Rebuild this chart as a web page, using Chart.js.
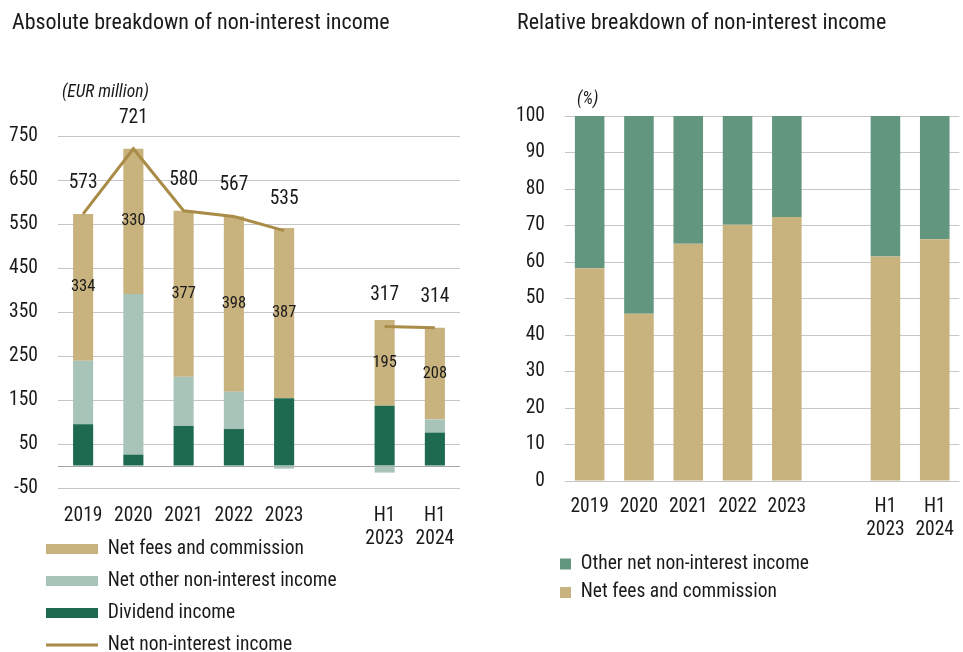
<!DOCTYPE html>
<html>
<head>
<meta charset="utf-8">
<script src="https://cdn.jsdelivr.net/npm/chart.js@4.4.1/dist/chart.umd.min.js"></script>
<style>
  html, body { margin: 0; padding: 0; background: #fff; overflow: hidden; }
  body { width: 963px; height: 652px; position: relative; }
  canvas { position: absolute; top: 0; }
  #absChart { left: 0; }
  #relChart { left: 500px; }
</style>
</head>
<body>
<canvas id="absChart" width="480" height="652"></canvas>
<canvas id="relChart" width="468" height="652"></canvas>
<script>
const periods = ['2019', '2020', '2021', '2022', '2023', '', ['H1', '2023'], ['H1', '2024']];

// EUR million
const dividendIncome = [95, 26, 91, 84, 154, null, 137, 76];
const otherIncome = [144, 365, 112, 85, -6, null, -15, 30];
const feesCommission = [334, 330, 377, 398, 387, null, 195, 208];
const totalIncome = [573, 721, 580, 567, 535, null, 317, 314];

// share of net non-interest income, %
const feesShare = [58.3, 45.8, 65.0, 70.2, 72.3, null, 61.5, 66.2];
const otherShare = [41.7, 54.2, 35.0, 29.8, 27.7, null, 38.5, 33.8];

const FONT = "'Roboto Condensed', 'Liberation Sans', sans-serif";
const TEXT = '#1a1a1a';
const GRID = '#c6c6c6';
const FS = 19.5;

Chart.defaults.font.family = FONT;
Chart.defaults.color = TEXT;

// value labels: totals above the line, fees inside their segment, unit caption
const barLabels = {
  id: 'barLabels',
  afterDatasetsDraw(chart, args, opts) {
    const ctx = chart.ctx;
    const ds = chart.data.datasets;
    ctx.save();
    ctx.fillStyle = TEXT;
    ctx.textAlign = 'center';
    ctx.textBaseline = 'middle';
    if (opts.totals != null) {
      ctx.font = FS + 'px ' + FONT;
      chart.getDatasetMeta(opts.totals).data.forEach((pt, i) => {
        const v = ds[opts.totals].data[i];
        if (v == null) return;
        ctx.fillText(v, pt.x, pt.y - 31);
      });
    }
    if (opts.inner != null) {
      ctx.font = '16.5px ' + FONT;
      chart.getDatasetMeta(opts.inner).data.forEach((bar, i) => {
        const v = ds[opts.inner].data[i];
        if (v == null) return;
        ctx.fillText(v, bar.x, (bar.y + bar.base) / 2);
      });
    }
    if (opts.unit) {
      const a = chart.chartArea;
      ctx.font = 'italic 17.5px ' + FONT;
      ctx.textAlign = 'left';
      ctx.fillText(opts.unit, a.left + opts.unitDx, a.top - opts.unitDy);
    }
    ctx.restore();
  }
};

// move the legend and title blocks after layout
const shiftBoxes = {
  id: 'shiftBoxes',
  afterLayout(chart, args, opts) {
    const move = (box, d) => {
      if (!box || !d) return;
      box.left += d.dx || 0;
      box.right += d.dx || 0;
      box.top += d.dy || 0;
      box.bottom += d.dy || 0;
    };
    move(chart.legend, opts.legend);
    move(chart.titleBlock, opts.title);
  }
};

const legendRank = [2, 1, 0, 3];

new Chart(document.getElementById('absChart'), {
  type: 'bar',
  data: {
    labels: periods,
    datasets: [
      { label: 'Dividend income', data: dividendIncome, backgroundColor: '#1e6a50', pointStyle: 'rect' },
      { label: 'Net other non-interest income', data: otherIncome, backgroundColor: '#a8c4b9', pointStyle: 'rect' },
      { label: 'Net fees and commission', data: feesCommission, backgroundColor: '#c8b27e', pointStyle: 'rect' },
      {
        type: 'line',
        label: 'Net non-interest income',
        data: totalIncome,
        borderColor: '#a98c47',
        backgroundColor: '#a98c47',
        borderWidth: 3,
        pointRadius: 0,
        pointBorderWidth: 3,
        pointStyle: 'line',
        tension: 0,
        spanGaps: false,
        order: -1
      }
    ]
  },
  options: {
    responsive: false,
    animation: false,
    layout: { padding: { left: 4, right: 20, top: 4, bottom: -36.8 } },
    datasets: { bar: { barPercentage: 0.5, categoryPercentage: 0.8, borderWidth: 0 } },
    plugins: {
      title: {
        display: true,
        text: 'Absolute breakdown of non-interest income',
        align: 'start',
        color: TEXT,
        font: { size: 22, weight: 'normal' },
        padding: { top: 6, bottom: 99.6 }
      },
      legend: {
        position: 'bottom',
        align: 'start',
        fullSize: false,
        labels: {
          usePointStyle: true,
          pointStyleWidth: 52,
          boxHeight: 10,
          padding: 12.5,
          color: TEXT,
          font: { size: FS },
          sort: (a, b) => legendRank[a.datasetIndex] - legendRank[b.datasetIndex]
        }
      },
      tooltip: { enabled: false },
      barLabels: { totals: 3, inner: 2, unit: '(EUR million)', unitDx: 4, unitDy: 43 },
      shiftBoxes: { legend: { dx: -24.5, dy: -24 }, title: { dx: 8 } }
    },
    scales: {
      x: {
        stacked: true,
        grid: { display: false, drawTicks: false },
        border: { display: false },
        ticks: { color: TEXT, font: { size: FS, lineHeight: 1.2 }, padding: 16, autoSkip: false, maxRotation: 0 },
        afterFit: s => { s.height = 62.8; }
      },
      y: {
        stacked: true,
        min: -50,
        max: 750,
        border: { display: false },
        grid: {
          drawTicks: false,
          color: c => (c.tick && c.tick.value === 0 ? '#a6a6a6' : GRID)
        },
        ticks: {
          stepSize: 100,
          color: TEXT,
          font: { size: FS },
          padding: 20,
          callback: v => (v === 0 ? '' : v)
        },
        // zero baseline drawn as an extra grid line
        afterBuildTicks: s => {
          s.ticks.push({ value: 0 });
          s.ticks.sort((a, b) => a.value - b.value);
        },
        afterFit: s => { s.width = 54; }
      }
    }
  },
  plugins: [barLabels, shiftBoxes]
});

new Chart(document.getElementById('relChart'), {
  type: 'bar',
  data: {
    labels: periods,
    datasets: [
      { label: 'Net fees and commission', data: feesShare, backgroundColor: '#c8b27e' },
      { label: 'Other net non-interest income', data: otherShare, backgroundColor: '#62967f' }
    ]
  },
  options: {
    responsive: false,
    animation: false,
    layout: { padding: { left: 9, right: 0, top: 4, bottom: 39.75 } },
    datasets: { bar: { barPercentage: 0.75, categoryPercentage: 0.8, borderWidth: 0 } },
    plugins: {
      title: {
        display: true,
        text: 'Relative breakdown of non-interest income',
        align: 'start',
        color: TEXT,
        font: { size: 22, weight: 'normal' },
        padding: { top: 6, bottom: 79.6 }
      },
      legend: {
        position: 'bottom',
        align: 'start',
        fullSize: false,
        labels: {
          boxWidth: 11,
          boxHeight: 11,
          padding: 9,
          color: TEXT,
          font: { size: FS },
          sort: (a, b) => b.datasetIndex - a.datasetIndex
        }
      },
      tooltip: { enabled: false },
      barLabels: { unit: '(%)', unitDx: 12, unitDy: 16 },
      shiftBoxes: { legend: { dx: -14 }, title: { dx: 8 } }
    },
    scales: {
      x: {
        stacked: true,
        grid: { display: false, drawTicks: false },
        border: { display: false },
        ticks: { color: TEXT, font: { size: FS, lineHeight: 1.2 }, padding: 14, autoSkip: false, maxRotation: 0 },
        afterFit: s => { s.height = 64.25; }
      },
      y: {
        stacked: true,
        min: 0,
        max: 100,
        border: { display: false },
        grid: { drawTicks: false, color: GRID },
        ticks: { stepSize: 10, color: TEXT, font: { size: FS }, padding: 20 },
        afterFit: s => { s.width = 56; }
      }
    }
  },
  plugins: [barLabels, shiftBoxes]
});
</script>
</body>
</html>
